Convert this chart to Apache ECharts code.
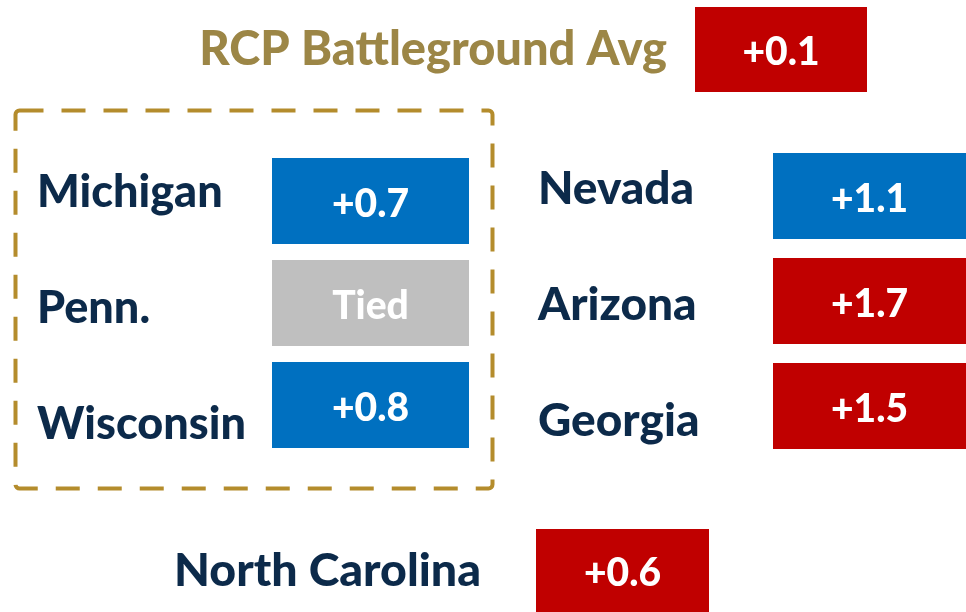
<!DOCTYPE html>
<html>
<head>
<meta charset="utf-8">
<script src="https://cdn.jsdelivr.net/npm/echarts@6/dist/echarts.min.js"></script>
<style>html,body{margin:0;padding:0;background:#fff}#main{width:966px;height:612px}</style>
</head>
<body>
<div id="main"></div>
<script>
var avgLabel = ['RCP Battleground Avg'];
var avgMargin = [0.1];
var avgParty = ['R'];

var leftStates = ['Michigan', 'Penn.', 'Wisconsin'];
var leftMargins = [0.7, 0, 0.8];
var leftParty = ['D', 'T', 'D'];

var rightStates = ['Nevada', 'Arizona', 'Georgia'];
var rightMargins = [1.1, 1.7, 1.5];
var rightParty = ['D', 'R', 'R'];

var ncState = ['North Carolina'];
var ncMargin = [0.6];
var ncParty = ['R'];

var partyColor = {D: '#0070C0', R: '#C00000', T: '#BFBFBF'};
var navy = '#0C2A4A';
var gold = '#9C8646';
var font = 'Lato';
var weight = 900;

var dom = document.getElementById('main');
var myChart = echarts.init(dom);

function rows(names, margins) {
    return names.map(function (n, i) { return [0, n, margins[i]]; });
}

function marginText(m) {
    return m === 0 ? 'Tied' : '+' + m.toFixed(1);
}

// box height in px (capped by the band), text nudged down a bit like the original
function boxItem(h, margins, party) {
    return function (params, api) {
        var k = params.dataIndex;
        var i = api.value(1);
        var p0 = api.coord([0, i]);
        var p1 = api.coord([1, i]);
        var band = api.size([0, 1])[1];
        var bh = Math.min(h, band);
        return {
            type: 'group',
            children: [{
                type: 'rect',
                shape: {x: p0[0], y: p0[1] - bh / 2, width: p1[0] - p0[0], height: bh},
                style: {fill: partyColor[party[k]]}
            }, {
                type: 'text',
                x: (p0[0] + p1[0]) / 2,
                y: p0[1] + 3,
                style: {
                    text: marginText(margins[k]),
                    fill: '#fff',
                    font: weight + ' 39px ' + font,
                    align: 'center',
                    verticalAlign: 'middle'
                }
            }]
        };
    };
}

var grids = [
    {left: 695, top: 7, width: 172, height: 85},        // avg box
    {left: 272, top: 150, width: 197, height: 306},     // left boxes
    {left: 272, top: 134.5, width: 197, height: 348},   // left labels
    {left: 773, top: 143.5, width: 193, height: 315},   // right boxes
    {left: 773, top: 131.5, width: 193, height: 348},   // right labels
    {left: 536, top: 529, width: 173, height: 83}       // north carolina
];

var yData = [avgLabel, leftStates, leftStates, rightStates, rightStates, ncState];

function labelStyle(show, color, margin, align, size) {
    return {
        show: show,
        color: color,
        fontFamily: font,
        fontWeight: weight,
        fontSize: size || 46,
        margin: margin,
        align: align
    };
}

var yLabels = [
    labelStyle(true, gold, 28, 'right', 47),
    labelStyle(false, navy, 0, 'left'),
    labelStyle(true, navy, 235, 'left', 45),
    labelStyle(false, navy, 0, 'left'),
    labelStyle(true, navy, 235, 'left', 46),
    labelStyle(true, navy, 55, 'right', 46.5)
];

option = {
    animation: false,
    backgroundColor: '#fff',
    grid: grids,
    xAxis: grids.map(function (g, i) {
        return {gridIndex: i, type: 'value', min: 0, max: 1, show: false};
    }),
    yAxis: grids.map(function (g, i) {
        return {
            gridIndex: i,
            type: 'category',
            inverse: true,
            data: yData[i],
            axisLine: {show: false},
            axisTick: {show: false},
            splitLine: {show: false},
            axisLabel: yLabels[i]
        };
    }),
    series: [
        {type: 'custom', xAxisIndex: 0, yAxisIndex: 0, renderItem: boxItem(86, avgMargin, avgParty), data: rows(avgLabel, avgMargin), encode: {x: 0, y: 1}},
        {type: 'custom', xAxisIndex: 1, yAxisIndex: 1, renderItem: boxItem(86, leftMargins, leftParty), data: rows(leftStates, leftMargins), encode: {x: 0, y: 1}},
        {type: 'custom', xAxisIndex: 3, yAxisIndex: 3, renderItem: boxItem(86, rightMargins, rightParty), data: rows(rightStates, rightMargins), encode: {x: 0, y: 1}},
        {type: 'custom', xAxisIndex: 5, yAxisIndex: 5, renderItem: boxItem(86, ncMargin, ncParty), data: rows(ncState, ncMargin), encode: {x: 0, y: 1}}
    ],
    graphic: [{
        type: 'rect',
        left: 13,
        top: 108,
        shape: {width: 477, height: 378, r: 4},
        style: {fill: 'none', stroke: '#B48C2C', lineWidth: 4, lineDash: [24, 18]}
    }]
};
myChart.setOption(option);
window.onresize = myChart.resize;
</script>
</body>
</html>
